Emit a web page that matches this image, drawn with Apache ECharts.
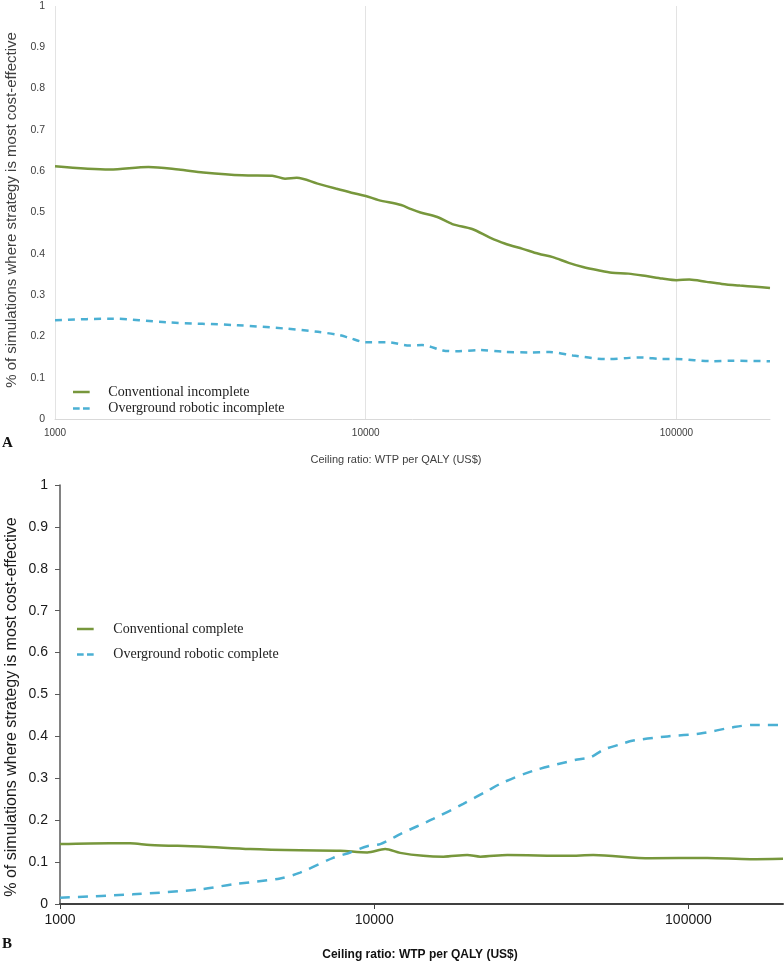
<!DOCTYPE html>
<html>
<head>
<meta charset="utf-8">
<script src="https://cdn.jsdelivr.net/npm/echarts@6/dist/echarts.min.js"></script>
<style>
html,body{margin:0;padding:0;background:#fff;}
#c{width:784px;height:964px;}
</style>
</head>
<body>
<div id="c"></div>
<script>
// ---- Panel A (incomplete) ----
const topConvX = [1000,1500,2000,2500,3000,4000,5000,5500,6000,7000,8000,9000,10000,11000,13000,14000,15000,17000,19000,22000,25000,28000,32000,36000,40000,45000,50000,56000,62000,70000,80000,90000,100000,110000,125000,140000,160000,180000,200000];
const topConvY = [0.612,0.604,0.610,0.604,0.597,0.590,0.589,0.582,0.584,0.570,0.558,0.548,0.540,0.530,0.518,0.508,0.500,0.489,0.472,0.460,0.440,0.425,0.412,0.400,0.392,0.378,0.368,0.360,0.354,0.352,0.346,0.340,0.336,0.338,0.332,0.327,0.323,0.320,0.317];
const topRobX = [1000,1514,2291,3873,5495,7015,8247,8880,10000,11700,13840,15200,17700,19600,23300,27600,33700,39000,46300,59600,70600,77800,90200,100000,130600,151400,200000];
const topRobY = [0.239,0.243,0.234,0.227,0.219,0.211,0.203,0.196,0.186,0.186,0.178,0.179,0.166,0.164,0.167,0.163,0.161,0.162,0.154,0.145,0.148,0.149,0.145,0.145,0.140,0.141,0.140];
// ---- Panel B (complete) ----
const botConvX = [1000,1443,1670,1936,2793,4030,5810,7800,9500,10840,12100,14320,16600,19770,21760,26540,41200,49800,75600,114900,157400,200000];
const botConvY = [0.143,0.145,0.145,0.141,0.137,0.131,0.128,0.127,0.123,0.131,0.122,0.115,0.113,0.117,0.113,0.117,0.115,0.117,0.109,0.110,0.107,0.108];
const botRobX = [1000,1707,2793,3556,5020,5810,7400,8390,9500,10450,11500,12100,15400,19200,22900,25700,32100,44300,48700,53600,60000,66800,85700,109100,139000,161000,200000];
const botRobY = [0.015,0.023,0.035,0.047,0.061,0.075,0.110,0.123,0.138,0.143,0.158,0.167,0.203,0.239,0.270,0.290,0.318,0.345,0.350,0.368,0.380,0.390,0.400,0.407,0.422,0.4275,0.4275];

const xTickLabels = ['1000','10000','100000'];
const yTitle = '% of simulations where strategy is most cost-effective';
const xTitle = 'Ceiling ratio: WTP per QALY (US$)';
const names = ['Conventional incomplete','Overground robotic incomplete','Conventional complete','Overground robotic complete'];

const GREEN = '#77973C';
const BLUE = '#4BB0D3';
const SOLID_ICON = 'path://M0,0h20v3h-20z';
const DASH_ICON = 'path://M0,0h8v3h-8z M12,0h8v3h-8z';
const pairs = (xs, ys) => xs.map((x, i) => [x, ys[i]]);
const fmtX = v => { const s = String(Math.round(v)); return xTickLabels.indexOf(s) >= 0 ? s : ''; };

const chart = echarts.init(document.getElementById('c'), null, {renderer: 'canvas'});
chart.setOption({
  animation: false,
  backgroundColor: '#fff',
  grid: [
    {left: 55, width: 715, top: 6, height: 413, containLabel: false},
    {left: 60, width: 723, top: 485, height: 419, containLabel: false}
  ],
  xAxis: [
    {
      gridIndex: 0, type: 'log', logBase: 10, min: 1000, max: 200000,
      axisLine: {show: true, lineStyle: {color: '#d9d9d9', width: 1}},
      axisTick: {show: false},
      splitLine: {show: true, showMaxLine: false, lineStyle: {color: '#e3e3e3', width: 1}},
      axisLabel: {formatter: fmtX, showMaxLabel: false, color: '#404040', fontSize: 10, fontFamily: 'Liberation Sans', margin: 9}
    },
    {
      gridIndex: 1, type: 'log', logBase: 10, min: 1000, max: 200000,
      axisLine: {show: true, lineStyle: {color: '#404040', width: 2}},
      axisTick: {show: true, length: 5, lineStyle: {color: '#404040'}},
      splitLine: {show: false},
      axisLabel: {formatter: fmtX, showMaxLabel: false, color: '#1a1a1a', fontSize: 14, fontFamily: 'Liberation Sans', margin: 9}
    }
  ],
  yAxis: [
    {
      gridIndex: 0, type: 'value', min: 0, max: 1, interval: 0.1,
      axisLine: {show: false}, axisTick: {show: false}, splitLine: {show: false},
      axisLabel: {color: '#404040', fontSize: 10.5, fontFamily: 'Liberation Sans', margin: 10,
        formatter: v => String(Math.round(v * 10) / 10)}
    },
    {
      gridIndex: 1, type: 'value', min: 0, max: 1, interval: 0.1,
      axisLine: {show: true, lineStyle: {color: '#595959', width: 1.5}},
      axisTick: {show: true, length: 5, lineStyle: {color: '#595959'}},
      splitLine: {show: false},
      axisLabel: {color: '#1a1a1a', fontSize: 14, fontFamily: 'Liberation Sans', margin: 12,
        formatter: v => String(Math.round(v * 10) / 10)}
    }
  ],
  legend: [
    {
      orient: 'vertical', left: 68, top: 380,
      itemWidth: 20, itemHeight: 2.5, itemGap: 2.5,
      data: [{name: names[0], icon: SOLID_ICON}, {name: names[1], icon: DASH_ICON}],
      textStyle: {fontFamily: 'Liberation Serif', fontSize: 14, color: '#222', padding: [0, 0, 0, 12]}
    },
    {
      orient: 'vertical', left: 72, top: 617,
      itemWidth: 20, itemHeight: 2.5, itemGap: 11.5,
      data: [{name: names[2], icon: SOLID_ICON}, {name: names[3], icon: DASH_ICON}],
      textStyle: {fontFamily: 'Liberation Serif', fontSize: 14, color: '#222', padding: [0, 0, 0, 13]}
    }
  ],
  series: [
    {name: names[0], type: 'line', xAxisIndex: 0, yAxisIndex: 0, data: pairs(topConvX, topConvY),
      showSymbol: false, symbol: 'none', smooth: 0.3, color: GREEN, lineStyle: {color: GREEN, width: 2.5}},
    {name: names[1], type: 'line', xAxisIndex: 0, yAxisIndex: 0, data: pairs(topRobX, topRobY),
      showSymbol: false, symbol: 'none', smooth: 0.3, color: BLUE, lineStyle: {color: BLUE, width: 2.5, type: [7, 6]}},
    {name: names[2], type: 'line', xAxisIndex: 1, yAxisIndex: 1, data: pairs(botConvX, botConvY),
      showSymbol: false, symbol: 'none', smooth: 0.3, color: GREEN, lineStyle: {color: GREEN, width: 2.5}},
    {name: names[3], type: 'line', xAxisIndex: 1, yAxisIndex: 1, data: pairs(botRobX, botRobY),
      showSymbol: false, symbol: 'none', smooth: 0.3, color: BLUE, lineStyle: {color: BLUE, width: 2.5, type: [10, 8]}}
  ],
  graphic: [
    {type: 'text', x: 12, y: 210, rotation: Math.PI / 2,
      style: {text: yTitle, fill: '#404040', font: '15px "Liberation Sans"', align: 'center', verticalAlign: 'middle'}},
    {type: 'text', x: 396, y: 460,
      style: {text: xTitle, fill: '#404040', font: '11px "Liberation Sans"', align: 'center', verticalAlign: 'middle'}},
    {type: 'text', x: 2, y: 443,
      style: {text: 'A', fill: '#111', font: 'bold 15px "Liberation Serif"', align: 'left', verticalAlign: 'middle'}},
    {type: 'text', x: 12, y: 707, rotation: Math.PI / 2,
      style: {text: yTitle, fill: '#1a1a1a', font: '16px "Liberation Sans"', align: 'center', verticalAlign: 'middle'}},
    {type: 'text', x: 420, y: 955,
      style: {text: xTitle, fill: '#111', font: 'bold 12px "Liberation Sans"', align: 'center', verticalAlign: 'middle'}},
    {type: 'text', x: 2, y: 944,
      style: {text: 'B', fill: '#111', font: 'bold 15px "Liberation Serif"', align: 'left', verticalAlign: 'middle'}}
  ]
});
</script>
</body>
</html>
